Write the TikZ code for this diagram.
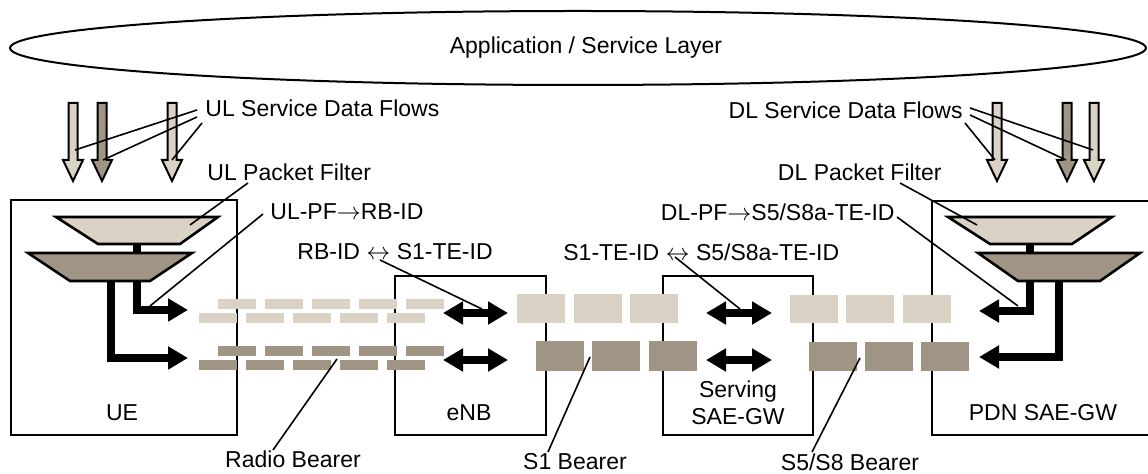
\documentclass[tikz,border=0pt]{standalone}
\usepackage{fontspec}
\setmainfont{Liberation Sans}
\usetikzlibrary{arrows.meta}
\definecolor{lightbr}{RGB}{217,210,197}
\definecolor{darkbr}{RGB}{160,148,132}
\tikzset{
  lbl/.style={inner sep=0pt, font=\fontsize{11.5pt}{13.5pt}\selectfont},
  boxline/.style={draw=black, line width=1pt},
  leader/.style={draw=black, line width=0.8pt},
  fatarrow/.style={draw=black, line width=4pt, line join=miter, -{Triangle[length=10pt,width=11pt]}},
  fatdouble/.style={draw=black, line width=4pt, {Triangle[length=10pt,width=11pt]}-{Triangle[length=10pt,width=11pt]}},
  stem/.style={draw=black, line width=4pt},
  trap/.style={draw=black, line width=1.3pt, line join=miter},
  flow/.style={draw=black, line width=1pt, line join=miter},
}
\begin{document}
\begin{tikzpicture}[x=0.5pt,y=-0.5pt]
\useasboundingbox (0,0) rectangle (1148,474);
\fill[white] (0,0) rectangle (1148,474);

% application layer
\draw[line width=1pt] (578,48) ellipse [x radius=284pt, y radius=18.5pt];
\node[lbl] (app) at (586,48) {Application / Service Layer};

% boxes
\draw[boxline] (11,200) rectangle (237,435);
\draw[boxline] (395,276) rectangle (546,435);
\draw[boxline] (663,276) rectangle (813,435);
\draw[boxline] (1150,201) -- (932,201) -- (932,435) -- (1150,435);

\node[lbl] (ue) at (122,413) {UE};
\node[lbl] (enb) at (469,413) {eNB};
\node[lbl, align=center] (sgw) at (738,403) {Serving\\SAE-GW};
\node[lbl] (pgw) at (1043,413) {PDN SAE-GW};

% UE stems and arrows
\draw[stem] (137,244) -- (137,253);
\draw[fatarrow] (137,270) -- (137,310) -- (188,310);
\draw[fatarrow] (111,270) -- (111,358) -- (188,358);
% UE packet filters
\draw[trap, fill=lightbr] (56,217) -- (218,217) -- (180,244) -- (98,244) -- cycle;
\draw[trap, fill=darkbr] (28,253) -- (192,253) -- (150,281) -- (70,281) -- cycle;

% PDN stems and arrows
\draw[stem] (1030,244) -- (1030,253);
\draw[fatarrow] (1030,270) -- (1030,311) -- (979,311);
\draw[fatarrow] (1059,270) -- (1059,357) -- (979,357);
% PDN packet filters
\draw[trap, fill=lightbr] (948,217) -- (1112,217) -- (1072,244) -- (990,244) -- cycle;
\draw[trap, fill=darkbr] (978,253) -- (1140,253) -- (1100,281) -- (1018,281) -- cycle;

% service data flows
\foreach \cx/\c in {73/lightbr,102/darkbr,172/lightbr,997/lightbr,1067/darkbr,1094/lightbr}
  \draw[flow, fill=\c] (\cx-4.5,103) -- (\cx+4.5,103) -- (\cx+4.5,160) -- (\cx+10,160)
     -- (\cx,181) -- (\cx-10,160) -- (\cx-4.5,160) -- cycle;

% radio bearer dashes
\foreach \i in {0,...,4} {
  \fill[lightbr] (218+47*\i,299) rectangle (256+47*\i,309);
  \fill[lightbr] (199+47*\i,313) rectangle (237+47*\i,323);
  \fill[darkbr] (218+47*\i,346) rectangle (256+47*\i,356);
  \fill[darkbr] (199+47*\i,360) rectangle (237+47*\i,370);
}

% S1 bearer blocks
\foreach \x in {517,574,630} \fill[lightbr] (\x,294) rectangle (\x+48,323);
\foreach \x in {536,592,649} \fill[darkbr] (\x,341) rectangle (\x+48,371);
% S5/S8 bearer blocks
\foreach \x in {790,846,903} \fill[lightbr] (\x,295) rectangle (\x+48,323);
\foreach \x in {809,865,921} \fill[darkbr] (\x,342) rectangle (\x+48,371);

% double arrows
\draw[fatdouble] (443,313) -- (508,313);
\draw[fatdouble] (443,360) -- (508,360);
\draw[fatdouble] (706,313) -- (772,313);
\draw[fatdouble] (706,360) -- (772,360);

% labels
\node[lbl, anchor=west] (ulsdf) at (205,108) {UL Service Data Flows};
\node[lbl, anchor=west] (ulpf) at (207,172) {UL Packet Filter};
\node[lbl, anchor=west] (ulmap) at (270,212) {UL-PF$\rightarrow$RB-ID};
\node[lbl, anchor=west] (rbmap) at (297,252) {RB-ID $\leftrightarrow$ S1-TE-ID};
\node[lbl, anchor=west] (s1map) at (563,252) {S1-TE-ID $\leftrightarrow$ S5/S8a-TE-ID};
\node[lbl, anchor=east] (dlsdf) at (963,110) {DL Service Data Flows};
\node[lbl, anchor=east] (dlpf) at (942,172) {DL Packet Filter};
\node[lbl, anchor=east] (dlmap) at (895,212) {DL-PF$\rightarrow$S5/S8a-TE-ID};
\node[lbl] (rb) at (293,459) {Radio Bearer};
\node[lbl] (s1b) at (575,462) {S1 Bearer};
\node[lbl] (s5b) at (850,462) {S5/S8 Bearer};

% leader line endpoints
\coordinate (a1) at (197,110); \coordinate (f1) at (75,150);
\coordinate (a2) at (197,117); \coordinate (f2) at (103,160);
\coordinate (a3) at (202,123); \coordinate (f3) at (172,160);
\coordinate (b1) at (248,183); \coordinate (t1) at (190,225);
\coordinate (c1) at (263,214); \coordinate (t2) at (150,306);
\coordinate (d1) at (380,260); \coordinate (t3) at (482,309);
\coordinate (e1) at (675,257); \coordinate (t4) at (740,309);
\coordinate (g1) at (970,108); \coordinate (h1) at (1093,150);
\coordinate (g2) at (970,115); \coordinate (h2) at (1066,160);
\coordinate (g3) at (965,123); \coordinate (h3) at (995,160);
\coordinate (k1) at (900,183); \coordinate (k2) at (977,225);
\coordinate (m1) at (897,217); \coordinate (m2) at (1018,306);
\coordinate (r1) at (273,450); \coordinate (r2) at (337,359);
\coordinate (s1) at (548,452); \coordinate (s2) at (590,357);
\coordinate (u1) at (812,452); \coordinate (u2) at (860,358);

\draw[leader] (a1) -- (f1);
\draw[leader] (a2) -- (f2);
\draw[leader] (a3) -- (f3);
\draw[leader] (b1) -- (t1);
\draw[leader] (c1) -- (t2);
\draw[leader] (d1) -- (t3);
\draw[leader] (e1) -- (t4);
\draw[leader] (g1) -- (h1);
\draw[leader] (g2) -- (h2);
\draw[leader] (g3) -- (h3);
\draw[leader] (k1) -- (k2);
\draw[leader] (m1) -- (m2);
\draw[leader] (r1) -- (r2);
\draw[leader] (s1) -- (s2);
\draw[leader] (u1) -- (u2);
\end{tikzpicture}
\end{document}
